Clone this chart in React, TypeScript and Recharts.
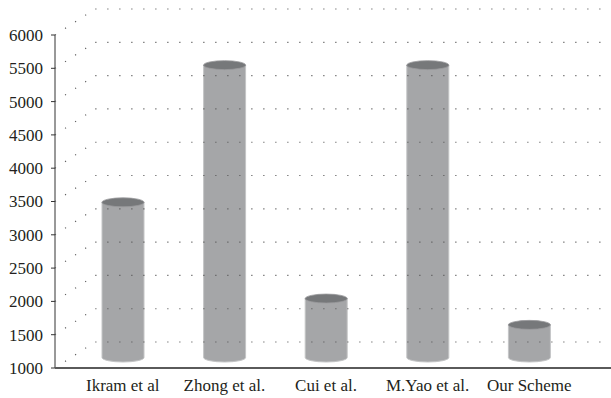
import React from 'react';
import { BarChart, Bar, XAxis, YAxis } from 'recharts';

const categories = ['Ikram et al', 'Zhong et al.', 'Cui et al.', 'M.Yao et al.', 'Our Scheme'];
const values = [3330, 5390, 1885, 5390, 1490];
const yTicks = [1000, 1500, 2000, 2500, 3000, 3500, 4000, 4500, 5000, 5500, 6000];

const data = categories.map((name, i) => ({ name, value: values[i] }));

const FONT = '"Liberation Serif", "Times New Roman", serif';
const TICK_SIZE = 4;
const TICK_MARGIN = 8;
const DEPTH_X = 40;
const DEPTH_Y = 26;
const GRID_RIGHT = 605;
const MID_DEPTH = 10.5;

const YTick = (props: any) => {
  const { x, y, payload } = props;
  const ax = x + TICK_SIZE + TICK_MARGIN;
  return (
    <g>
      <path
        d={`M${ax},${y} L${ax + DEPTH_X},${y - DEPTH_Y} L${GRID_RIGHT},${y - DEPTH_Y}`}
        fill="none"
        stroke="#5a5a5a"
        strokeWidth={1.15}
        strokeDasharray="1.15 10.85"
      />
      <text x={x} y={y} dy="0.35em" textAnchor="end" fontFamily={FONT} fontSize={17} fill="#231f20">
        {payload.value}
      </text>
    </g>
  );
};

const XTick = (props: any) => {
  const { x, y, payload } = props;
  return (
    <text x={x} y={y + 23} textAnchor="middle" fontFamily={FONT} fontSize={17} fill="#231f20">
      {payload.value}
    </text>
  );
};

const Cylinder = (props: any) => {
  const { x, y, width, height } = props;
  if (width == null || height == null) return null;
  const rx = width / 2;
  const ry = 4.5;
  const top = y - MID_DEPTH;
  const bot = y + height - MID_DEPTH;
  const cx = x + rx;
  return (
    <g>
      <path
        d={`M${x},${top} L${x},${bot} A${rx},${ry} 0 0 0 ${x + width},${bot} L${x + width},${top} Z`}
        fill="#a5a6a8"
        stroke="#c4c5c6"
        strokeWidth={1}
      />
      <ellipse cx={cx} cy={top} rx={rx} ry={ry} fill="#76787a" stroke="#9a9b9d" strokeWidth={0.8} />
    </g>
  );
};

export default function App() {
  return (
    <div style={{ position: 'absolute', left: 0, top: 0, background: '#fff' }}>
      <BarChart
        width={611}
        height={398}
        data={data}
        margin={{ top: 35, right: 0, bottom: 0, left: 0 }}
      >
        <YAxis
          type="number"
          domain={[1000, 6000]}
          ticks={yTicks}
          interval={0}
          width={55}
          tickSize={TICK_SIZE}
          tickMargin={TICK_MARGIN}
          tick={<YTick />}
          axisLine={{ stroke: '#333', strokeWidth: 1 }}
          tickLine={{ stroke: '#333', strokeWidth: 1 }}
          allowDataOverflow
          zIndex={-100}
        />
        <XAxis
          dataKey="name"
          padding={{ left: 17, right: 31 }}
          height={30}
          tickSize={0}
          tickMargin={0}
          tickLine={false}
          axisLine={{ stroke: '#5a5a5a', strokeWidth: 2 }}
          tick={<XTick />}
          interval={0}
        />
        <Bar dataKey="value" barSize={42} shape={<Cylinder />} isAnimationActive={false} />
      </BarChart>
    </div>
  );
}
